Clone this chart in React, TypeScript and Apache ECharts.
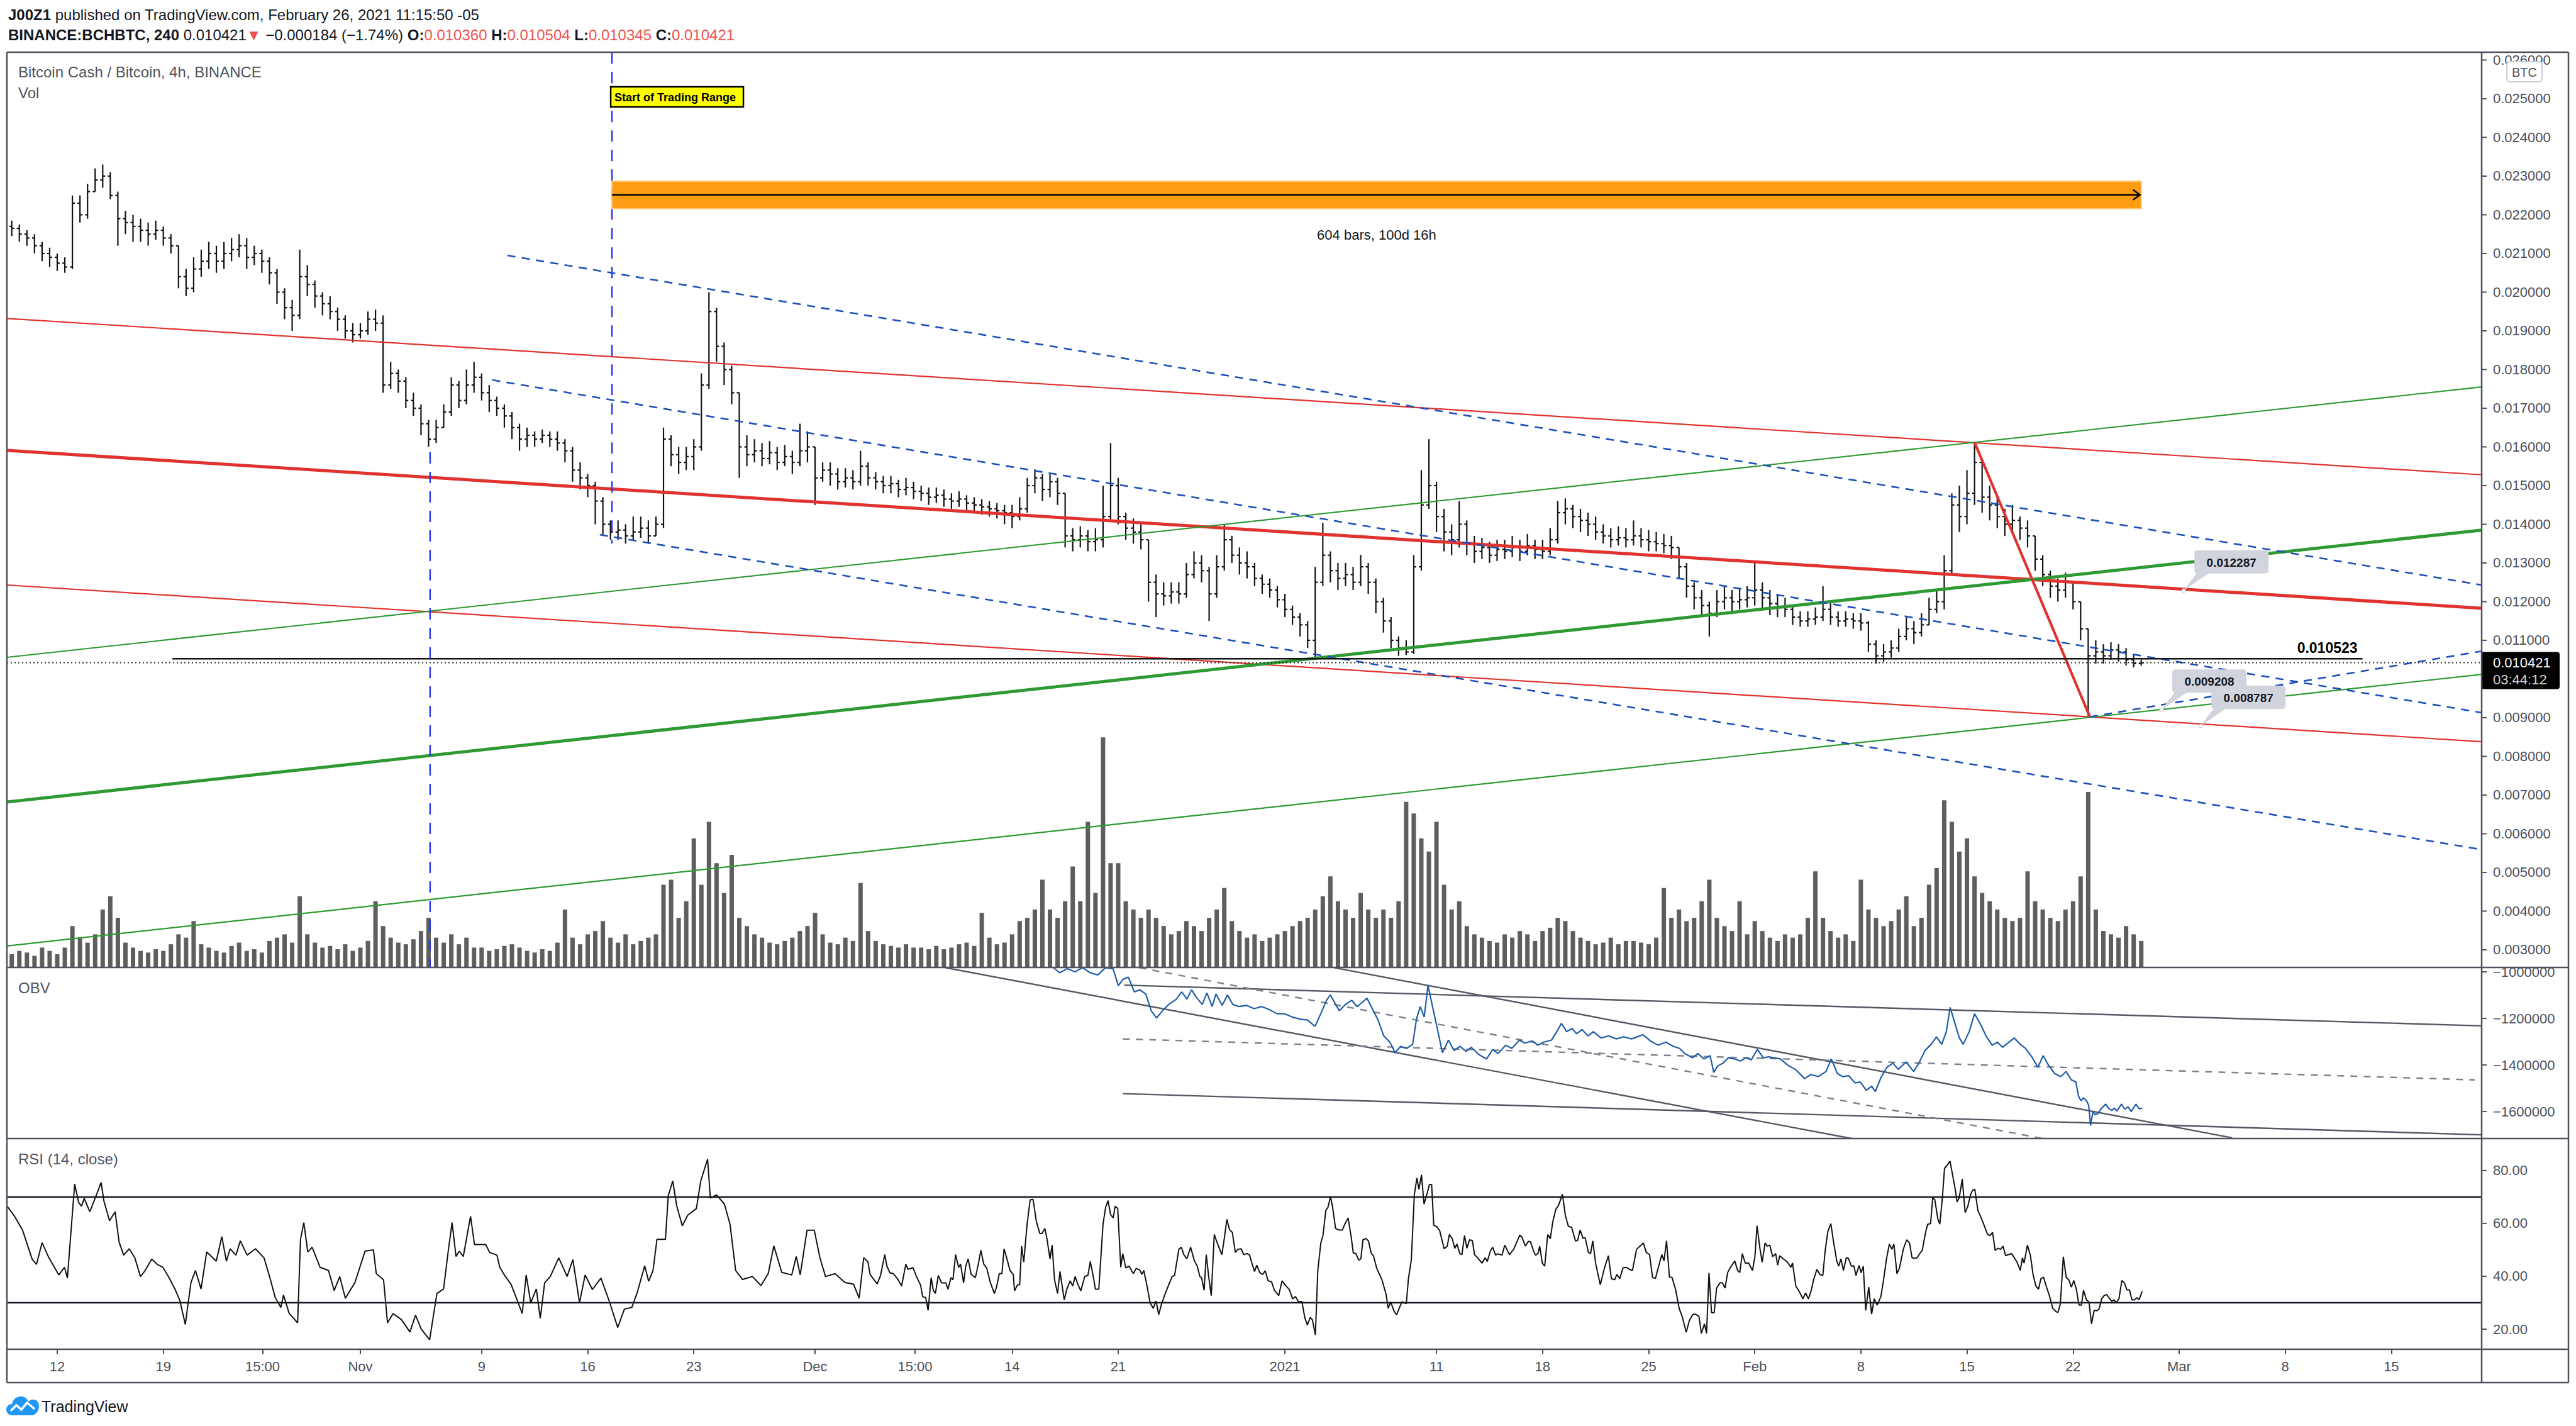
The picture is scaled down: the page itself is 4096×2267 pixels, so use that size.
import React, { useEffect, useRef } from "react";
import * as echarts from "echarts";

// ---------- time axis: days since 2020-10-12 00:00 ----------
const X_MIN = -3.32;
const X_MAX = 159.96;
const BAR_FIRST_DAY = -3;
const BAR_STEP_DAYS = 0.5; // 12h aggregated bars
const FIRST_OPEN = 0.0217;

// ---------- price bars (12h) ----------
const closes = [
  0.02165, 0.0215, 0.0214, 0.0212, 0.021, 0.0209, 0.02075, 0.02065, 0.0223, 0.022,
  0.0226, 0.0229, 0.023, 0.0225, 0.0219, 0.0218, 0.0217, 0.0216, 0.0215, 0.0216,
  0.0214, 0.0212, 0.0204, 0.0201, 0.0206, 0.0208, 0.021, 0.0208, 0.021, 0.0211,
  0.0212, 0.0209, 0.021, 0.0208, 0.0205, 0.02, 0.0196, 0.0194, 0.0204, 0.0202,
  0.0199, 0.0197, 0.0195, 0.0193, 0.019, 0.0189, 0.019, 0.0193, 0.0192, 0.0176,
  0.0179, 0.0177, 0.0172, 0.017, 0.0166, 0.0162, 0.0165, 0.0169, 0.0176, 0.0172,
  0.0176, 0.0178, 0.0174, 0.0172, 0.017, 0.0168, 0.0165, 0.0162, 0.0163, 0.0162,
  0.0163, 0.0162, 0.0161, 0.0159, 0.0154, 0.0152, 0.015, 0.0146, 0.014, 0.0138,
  0.01385, 0.0137, 0.0138, 0.0139, 0.0137, 0.014, 0.0162, 0.0158, 0.0156, 0.01575,
  0.016, 0.0176, 0.0195, 0.0186, 0.018, 0.0174, 0.016, 0.0158, 0.0159, 0.0157,
  0.01585, 0.0156, 0.01575, 0.0156, 0.0159, 0.016, 0.0152, 0.0154, 0.0153, 0.0151,
  0.0152, 0.0151, 0.0155, 0.0152, 0.0151, 0.015, 0.01505, 0.0149, 0.01495, 0.01485,
  0.0148, 0.0147, 0.01475, 0.01465, 0.0146, 0.01465, 0.01455, 0.0145, 0.01445, 0.0144,
  0.01435, 0.0143, 0.0142, 0.0144, 0.015, 0.0152, 0.0149, 0.0151, 0.0148, 0.0137,
  0.0136, 0.0137, 0.01355, 0.0136, 0.0142, 0.015, 0.0142, 0.0139, 0.0138, 0.0136,
  0.0125, 0.0122, 0.01215, 0.01225, 0.0122, 0.0127, 0.013, 0.0128, 0.0122, 0.0129,
  0.0136, 0.0132, 0.013, 0.0129, 0.0126, 0.01245, 0.0123, 0.01205, 0.0118, 0.0116,
  0.0114, 0.011, 0.0125, 0.0132, 0.0128, 0.0126, 0.0127, 0.0125, 0.0129, 0.0125,
  0.012, 0.0115, 0.011, 0.0108, 0.0107, 0.0129, 0.0145, 0.015, 0.0142, 0.0138,
  0.0136, 0.014, 0.0135, 0.0133, 0.0134, 0.0132, 0.01335, 0.0133, 0.0134, 0.0133,
  0.01345, 0.01335, 0.0133, 0.0136, 0.0143, 0.0144, 0.0142, 0.0141, 0.014, 0.0138,
  0.0137, 0.0136, 0.01365, 0.0136, 0.0137, 0.0136, 0.01355, 0.0135, 0.01345, 0.0134,
  0.0129, 0.0124, 0.0121, 0.0119, 0.0117, 0.012, 0.0121, 0.012, 0.01205, 0.0121,
  0.0123, 0.0121, 0.01195, 0.01185, 0.0118, 0.0116, 0.0115, 0.01155, 0.0116, 0.0118,
  0.0116, 0.0115, 0.01155, 0.0115, 0.01145, 0.0109, 0.0106, 0.0107, 0.0108, 0.0111,
  0.0113, 0.0112, 0.0114, 0.0118, 0.012, 0.0128, 0.0145, 0.0142, 0.0148, 0.0156,
  0.0147, 0.0145, 0.0142, 0.014, 0.0141, 0.0139, 0.0137, 0.0131, 0.0127, 0.0124,
  0.0123, 0.0125, 0.012, 0.0113, 0.0106, 0.0107, 0.0106, 0.01075, 0.0107, 0.0105,
  0.0104, 0.010421,
];
const highs = [
  0.02185, 0.02175, 0.0216, 0.0215, 0.0213, 0.02115, 0.021, 0.0209, 0.0225, 0.0225,
  0.0228, 0.0232, 0.0233, 0.0231, 0.0226, 0.0221, 0.022, 0.0219, 0.0218, 0.02185,
  0.0217, 0.0215, 0.0212, 0.0206, 0.0209, 0.0211, 0.0213, 0.0212, 0.0213, 0.0214,
  0.0215, 0.0214, 0.0212, 0.0211, 0.0209, 0.0206, 0.0201, 0.0198, 0.0211, 0.0207,
  0.0203, 0.02, 0.0199, 0.0196, 0.0194, 0.0192, 0.0192, 0.0195, 0.01955, 0.0194,
  0.0182, 0.018, 0.0178, 0.0174, 0.0171, 0.0167, 0.0167, 0.0171, 0.0178, 0.0177,
  0.018, 0.0182, 0.0179, 0.0176, 0.0173, 0.0171, 0.0169, 0.0166, 0.0165, 0.0164,
  0.01645, 0.0164, 0.0164, 0.0162, 0.016, 0.0156, 0.0153, 0.0151, 0.0147, 0.0141,
  0.0141, 0.014, 0.0142, 0.0142, 0.0141, 0.0142, 0.0165, 0.0163, 0.016, 0.016,
  0.0162, 0.0179, 0.02, 0.0196, 0.0187, 0.0181, 0.0174, 0.0163, 0.0162, 0.0161,
  0.01615, 0.016, 0.01605, 0.0159, 0.0166, 0.0164, 0.016, 0.0156, 0.0156, 0.01545,
  0.01545, 0.0154, 0.0159, 0.0156, 0.01535, 0.01525, 0.01525, 0.01515, 0.0152, 0.0151,
  0.015, 0.01495, 0.01495, 0.0149, 0.0148, 0.01485, 0.01475, 0.0147, 0.01465, 0.0146,
  0.01455, 0.0145, 0.0145, 0.0147, 0.0152, 0.01542, 0.0153, 0.0153, 0.0152, 0.0148,
  0.0139, 0.01395, 0.01385, 0.0139, 0.015, 0.0161, 0.0152, 0.0143, 0.01415, 0.014,
  0.0136, 0.0127, 0.0125, 0.0125, 0.0125, 0.013, 0.0133, 0.0132, 0.0129, 0.0132,
  0.014, 0.0137, 0.0134, 0.0133, 0.013, 0.0127, 0.0126, 0.0124, 0.0122, 0.0119,
  0.0117, 0.0115, 0.0129, 0.01404, 0.0133, 0.013, 0.013, 0.0129, 0.01321, 0.013,
  0.0126, 0.0121, 0.0116, 0.0111, 0.011, 0.0132, 0.0154, 0.0162, 0.0151, 0.0144,
  0.014, 0.0146, 0.0141, 0.0137, 0.01365, 0.01355, 0.0136, 0.0136, 0.0137, 0.0136,
  0.01375, 0.0136, 0.0136, 0.0139, 0.0146, 0.01467, 0.0145, 0.0144, 0.0143, 0.0142,
  0.014, 0.0139, 0.01395, 0.0139, 0.0141, 0.0139, 0.01385, 0.0138, 0.01375, 0.0137,
  0.0134, 0.013, 0.0125, 0.0123, 0.012, 0.0123, 0.0124, 0.0123, 0.01235, 0.0124,
  0.013, 0.0125, 0.0123, 0.0122, 0.0121, 0.0119, 0.01175, 0.01175, 0.01185, 0.0124,
  0.012, 0.01175, 0.01175, 0.0117, 0.0117, 0.0115, 0.011, 0.0109, 0.011, 0.0113,
  0.0116, 0.0115, 0.0117, 0.0121, 0.0123, 0.0132, 0.0148, 0.015, 0.0154, 0.01612,
  0.0157, 0.015, 0.0147, 0.0144, 0.0145, 0.0142, 0.0141, 0.0137, 0.0132, 0.0128,
  0.0126, 0.01275, 0.0125, 0.012, 0.0113, 0.011, 0.0109, 0.01095, 0.0109, 0.0108,
  0.01065, 0.010504,
];
const lows = [
  0.02145, 0.0213, 0.0212, 0.021, 0.0208, 0.02065, 0.02055, 0.0205, 0.0206, 0.0218,
  0.0219, 0.0226, 0.0227, 0.0224, 0.0212, 0.0215, 0.0213, 0.0213, 0.0212, 0.02135,
  0.0212, 0.021, 0.0201, 0.0199, 0.02, 0.0204, 0.0206, 0.0205, 0.0206, 0.0208,
  0.0209, 0.0206, 0.0207, 0.0205, 0.0202, 0.0197, 0.0193, 0.019, 0.0193, 0.0199,
  0.0196, 0.0194, 0.0193, 0.019, 0.0188, 0.0187, 0.0188, 0.0189, 0.019, 0.0174,
  0.0175, 0.0174, 0.017, 0.0168, 0.0163, 0.016, 0.0161, 0.0165, 0.0168, 0.017,
  0.0171, 0.0174, 0.0172, 0.0169, 0.0168, 0.0165, 0.0162, 0.0159, 0.016, 0.016,
  0.0161, 0.016, 0.0159, 0.0156, 0.0151, 0.0149, 0.0147, 0.014, 0.0137, 0.0136,
  0.0136, 0.0135, 0.0136, 0.01365, 0.0135, 0.0137, 0.0139, 0.0155, 0.0153, 0.0154,
  0.0154, 0.0159, 0.0175, 0.0182, 0.0176, 0.0171, 0.0152, 0.0155, 0.0156, 0.0155,
  0.01555, 0.0154, 0.0155, 0.0153, 0.0155, 0.0156, 0.0145, 0.0151, 0.015, 0.0149,
  0.01495, 0.0149, 0.015, 0.015, 0.0149, 0.0148, 0.0148, 0.0147, 0.01475, 0.01465,
  0.0146, 0.0145, 0.01455, 0.01445, 0.0144, 0.01445, 0.01435, 0.0143, 0.01425, 0.0142,
  0.01415, 0.014, 0.0139, 0.0141, 0.0143, 0.0148, 0.0146, 0.0147, 0.0145, 0.0134,
  0.0133, 0.0134, 0.0133, 0.0133, 0.0134, 0.0141, 0.014, 0.0136, 0.0135, 0.01335,
  0.012, 0.0116, 0.0119, 0.01195, 0.01195, 0.0121, 0.0126, 0.0125, 0.0115, 0.0121,
  0.0128, 0.013, 0.0127, 0.0126, 0.0124, 0.0122, 0.0121, 0.01185, 0.0116, 0.0114,
  0.0111, 0.0108, 0.01056, 0.0124, 0.0125, 0.0123, 0.0124, 0.0123, 0.0124, 0.0122,
  0.0117, 0.0112, 0.0108, 0.0106, 0.01062, 0.01065, 0.0128, 0.0144, 0.0138, 0.0133,
  0.0132, 0.0134, 0.0132, 0.013, 0.0131, 0.013, 0.01305, 0.0131, 0.01315, 0.01305,
  0.0132, 0.0131, 0.0131, 0.0132, 0.0135, 0.014, 0.0139, 0.0138, 0.0137, 0.0136,
  0.0135, 0.0134, 0.01345, 0.0134, 0.01345, 0.0134, 0.0133, 0.0133, 0.01325, 0.0131,
  0.0126, 0.0121, 0.0118, 0.0116, 0.0111, 0.0116, 0.0118, 0.01175, 0.0118, 0.01185,
  0.0119, 0.0118, 0.01165, 0.0116, 0.0116, 0.0114, 0.01135, 0.01135, 0.0114, 0.0115,
  0.0114, 0.01135, 0.01135, 0.0113, 0.01125, 0.0107, 0.0104, 0.01045, 0.01055, 0.0107,
  0.011, 0.0109, 0.0111, 0.0114, 0.0117, 0.0118, 0.0127, 0.0138, 0.014, 0.0145,
  0.0143, 0.0141, 0.0139, 0.0137, 0.0138, 0.0136, 0.0134, 0.0128, 0.0124, 0.0121,
  0.012, 0.0121, 0.0118, 0.011, 0.00903, 0.0104, 0.0104, 0.0105, 0.01045, 0.01035,
  0.0103, 0.010345,
];
// volume per 12h bar (relative units)
const volumes = [
  8, 10, 9, 7, 12, 10, 8, 12, 25, 18, 15, 20, 35, 43, 30, 15, 12, 10, 9, 11,
  10, 14, 20, 18, 28, 14, 12, 10, 9, 13, 15, 10, 11, 9, 16, 18, 20, 15, 43, 20,
  15, 12, 13, 11, 14, 10, 12, 16, 40, 25, 18, 15, 14, 17, 22, 30, 18, 15, 20, 14,
  18, 12, 12, 10, 11, 13, 14, 12, 10, 9, 11, 10, 15, 35, 18, 14, 20, 22, 28, 18,
  15, 20, 14, 16, 18, 20, 50, 53, 30, 40, 78, 50, 88, 63, 45, 68, 30, 25, 20, 18,
  15, 14, 16, 18, 22, 25, 33, 20, 15, 14, 18, 16, 51, 22, 16, 14, 13, 12, 14, 12,
  12, 11, 13, 11, 12, 14, 15, 13, 33, 18, 14, 15, 20, 28, 30, 35, 53, 35, 30, 40,
  61, 40, 88, 45, 139, 63, 63, 40, 35, 30, 35, 30, 25, 20, 22, 28, 25, 22, 30, 35,
  48, 28, 22, 18, 20, 16, 18, 20, 22, 25, 28, 30, 35, 43, 55, 40, 35, 30, 45, 35,
  30, 35, 30, 40, 100, 93, 78, 70, 88, 50, 35, 40, 25, 20, 18, 16, 15, 20, 18, 22,
  20, 16, 22, 24, 30, 28, 22, 18, 16, 14, 15, 18, 14, 16, 16, 15, 14, 18, 48, 30,
  35, 28, 30, 40, 53, 30, 25, 22, 40, 20, 28, 22, 18, 16, 20, 18, 20, 30, 58, 30,
  22, 18, 20, 16, 53, 35, 30, 25, 28, 35, 43, 25, 30, 50, 60, 101, 88, 70, 78, 55,
  45, 40, 35, 30, 28, 30, 58, 40, 35, 30, 28, 35, 40, 55, 106, 35, 22, 20, 18, 25,
  20, 16,
];

// ---------- OBV [day, value] ----------
const obvPoints = [
  [65.0, -960000], [65.64, -977000], [66.14, -1004000], [66.64, -986000], [67.15, -1000000], [67.65, -982000],
  [68.15, -1004000], [68.66, -1013000], [69.16, -982000], [69.66, -986000], [70.01, -1059000], [70.32, -1032000],
  [70.67, -1023000], [71.07, -1086000], [71.42, -1077000], [71.82, -1095000], [72.18, -1167000], [72.53, -1198000],
  [72.93, -1167000], [73.33, -1140000], [73.84, -1117000], [74.19, -1086000], [74.54, -1117000], [74.84, -1077000],
  [75.2, -1113000], [75.55, -1140000], [75.85, -1090000], [76.2, -1149000], [76.45, -1095000], [76.86, -1144000],
  [77.21, -1099000], [77.56, -1140000], [77.96, -1149000], [78.46, -1144000], [78.97, -1158000], [79.47, -1149000],
  [79.97, -1162000], [80.48, -1180000], [80.98, -1180000], [81.48, -1194000], [81.99, -1203000], [82.49, -1207000],
  [82.99, -1234000], [83.39, -1176000], [83.75, -1122000], [84.0, -1099000], [84.35, -1140000], [84.6, -1167000],
  [85.0, -1140000], [85.41, -1122000], [85.76, -1149000], [86.11, -1131000], [86.41, -1113000], [86.76, -1158000],
  [87.12, -1203000], [87.52, -1275000], [87.92, -1302000], [88.27, -1347000], [88.63, -1320000], [89.03, -1329000],
  [89.43, -1311000], [89.68, -1203000], [89.93, -1149000], [90.19, -1194000], [90.44, -1059000], [90.74, -1149000],
  [91.04, -1239000], [91.39, -1347000], [91.79, -1293000], [92.15, -1338000], [92.55, -1320000], [92.95, -1342000],
  [93.3, -1324000], [93.81, -1356000], [94.31, -1374000], [94.71, -1333000], [95.06, -1351000], [95.57, -1315000],
  [95.97, -1329000], [96.47, -1293000], [96.83, -1306000], [97.33, -1297000], [97.68, -1315000], [98.08, -1302000],
  [98.59, -1293000], [98.94, -1257000], [99.24, -1221000], [99.59, -1257000], [99.94, -1243000], [100.25, -1266000],
  [100.6, -1248000], [101.0, -1275000], [101.35, -1257000], [101.86, -1284000], [102.36, -1275000], [102.86, -1288000],
  [103.36, -1279000], [103.87, -1288000], [104.62, -1270000], [105.12, -1297000], [105.63, -1315000], [106.13, -1302000],
  [106.63, -1320000], [107.04, -1329000], [107.39, -1351000], [107.89, -1369000], [108.24, -1351000], [108.65, -1374000],
  [109.05, -1360000], [109.3, -1432000], [109.55, -1405000], [109.9, -1392000], [110.26, -1369000], [110.66, -1374000],
  [111.06, -1383000], [111.41, -1369000], [111.77, -1378000], [112.17, -1333000], [112.57, -1369000], [112.92, -1365000],
  [113.28, -1369000], [113.68, -1374000], [114.18, -1401000], [114.68, -1419000], [115.29, -1459000], [115.69, -1441000],
  [116.19, -1450000], [116.7, -1428000], [117.05, -1374000], [117.45, -1437000], [117.8, -1450000], [118.2, -1446000],
  [118.61, -1477000], [118.96, -1473000], [119.36, -1509000], [119.71, -1491000], [119.96, -1514000], [120.32, -1455000],
  [120.72, -1410000], [121.12, -1392000], [121.47, -1419000], [121.98, -1387000], [122.48, -1428000], [122.83, -1392000],
  [123.23, -1338000], [123.64, -1311000], [123.99, -1279000], [124.34, -1311000], [124.64, -1257000], [124.89, -1153000],
  [125.25, -1230000], [125.5, -1284000], [125.75, -1311000], [126.15, -1257000], [126.5, -1180000], [126.86, -1221000],
  [127.26, -1275000], [127.66, -1315000], [128.01, -1302000], [128.36, -1324000], [128.77, -1302000], [129.12, -1284000],
  [129.52, -1311000], [129.87, -1329000], [130.28, -1365000], [130.68, -1410000], [131.03, -1360000], [131.38, -1401000],
  [131.79, -1437000], [132.19, -1450000], [132.54, -1428000], [132.89, -1464000], [133.19, -1473000], [133.36, -1534000],
  [133.53, -1554000], [133.68, -1541000], [133.89, -1554000], [134.03, -1573000], [134.16, -1660000], [134.31, -1600000],
  [134.46, -1614000], [134.62, -1610000], [134.83, -1590000], [135.15, -1568000], [135.36, -1588000], [135.57, -1595000],
  [135.72, -1585000], [135.89, -1598000], [136.2, -1568000], [136.41, -1590000], [136.63, -1580000], [136.84, -1600000],
  [137.15, -1568000], [137.36, -1588000], [137.57, -1586000],
];

// ---------- RSI (14, close) [day, value] ----------
const rsiPoints = [
  [-3.33, 66.7], [-2.85, 63], [-2.29, 57.5], [-1.66, 46.5], [-1.37, 44.5], [-1.0, 52.7], [-0.55, 47], [0.11, 40.5],
  [0.48, 43.4], [0.67, 39.3], [1.15, 74.9], [1.41, 68], [1.6, 66.5], [1.78, 69.5], [2.15, 64.4], [2.71, 72.6],
  [2.89, 75.5], [3.08, 68.5], [3.45, 61], [3.82, 64.4], [4.08, 53], [4.38, 48], [4.75, 50.4], [5.12, 47],
  [5.49, 39.9], [5.78, 42], [6.23, 46.5], [6.6, 44.5], [6.97, 43.4], [7.34, 39.9], [7.78, 35], [8.08, 31],
  [8.45, 21.8], [8.82, 37.6], [9.12, 42.2], [9.49, 35.2], [9.86, 49.2], [10.49, 45.7], [10.86, 55], [11.16, 45.7],
  [11.41, 50.4], [11.79, 48], [12.08, 53.4], [12.53, 48], [13.08, 50.4], [13.64, 47], [14.01, 39.9], [14.38, 32],
  [14.75, 28.2], [14.93, 32.9], [15.3, 26], [15.86, 22.4], [16.05, 54], [16.27, 60.3], [16.53, 49.2], [16.82, 51],
  [17.34, 43.4], [17.9, 42.2], [18.27, 34.6], [18.64, 39.9], [19.01, 31.7], [19.64, 37.6], [20.31, 49.5], [20.86, 50],
  [21.05, 41], [21.53, 38.7], [21.79, 22.4], [22.16, 25.9], [22.71, 23.6], [23.27, 18.9], [23.64, 25.3], [24.01, 20.1],
  [24.57, 16], [25.05, 33.5], [25.49, 35.2], [25.79, 49.2], [26.05, 60.3], [26.31, 47.5], [26.53, 49.5], [26.79, 47.5],
  [27.27, 62.7], [27.53, 52], [28.27, 52], [28.53, 49], [29.01, 48], [29.2, 43.4], [29.57, 39.9], [29.94, 37],
  [30.31, 31.5], [30.68, 25.9], [30.94, 40.5], [31.24, 30], [31.61, 35.2], [31.87, 24.1], [32.16, 37.6], [32.53, 39.9],
  [33.09, 47], [33.64, 39.9], [34.02, 46.3], [34.46, 30], [34.83, 40.5], [35.31, 35], [35.87, 39.3], [36.42, 30.6],
  [36.98, 20.6], [37.42, 27.6], [37.91, 28.2], [38.28, 34.1], [38.76, 44], [39.02, 38.1], [39.31, 42.2], [39.57, 54],
  [40.13, 54], [40.31, 70.3], [40.61, 76.1], [40.87, 66.7], [41.24, 59.1], [41.61, 63.2], [42.17, 65.6], [42.46, 76.1],
  [42.91, 84.3], [43.09, 69.6], [43.5, 70.8], [44.02, 67.3], [44.39, 59.7], [44.76, 42.2], [45.21, 38.8], [45.87, 39.9],
  [46.43, 36.5], [46.91, 41], [47.28, 51.5], [47.8, 41.5], [48.46, 40.5], [48.76, 47.5], [49.02, 40.5], [49.47, 57.4],
  [49.95, 57.4], [50.32, 47], [50.69, 39.9], [51.32, 41], [51.98, 37.6], [52.54, 37], [52.91, 31.7], [53.21, 47],
  [53.49, 45.4], [53.63, 40.7], [54.1, 37.1], [54.32, 40.3], [54.6, 48.2], [54.74, 43.8], [54.94, 41.3], [55.16, 41],
  [55.44, 39.1], [55.71, 36.3], [55.99, 44.6], [56.13, 42.6], [56.46, 43.3], [56.69, 39.9], [56.96, 36.7], [57.1, 32.3],
  [57.3, 31.9], [57.46, 27.1], [57.66, 39.5], [57.8, 34.7], [57.94, 33.5], [58.13, 40.3], [58.35, 37.5], [58.63, 37.5],
  [58.77, 35.1], [58.97, 39.5], [59.1, 38.7], [59.27, 48.2], [59.47, 43.4], [59.6, 44.6], [59.8, 37.5], [59.94, 43.8],
  [60.1, 46.6], [60.3, 40.7], [60.58, 39.5], [60.77, 44.6], [60.94, 49.8], [61.13, 44.6], [61.33, 43], [61.55, 37.9],
  [61.83, 33.5], [61.97, 35.9], [62.16, 41], [62.33, 41], [62.47, 50.4], [62.66, 46.6], [62.86, 42.2], [63.08, 40.7],
  [63.16, 34.5], [63.36, 36.8], [63.5, 36.8], [63.63, 51.4], [63.77, 45.4], [63.99, 59.7], [64.19, 68.9], [64.38, 69.1],
  [64.61, 60.5], [64.83, 56.2], [64.97, 56.2], [65.16, 58.1], [65.3, 54.2], [65.5, 46.6], [65.64, 51.8], [65.8, 38.7],
  [66.0, 33.5], [66.16, 41.8], [66.44, 31.1], [66.61, 35.1], [66.83, 38.3], [67.0, 36.3], [67.16, 39.9], [67.33, 37.1],
  [67.53, 34.5], [67.8, 40], [68.0, 40.3], [68.16, 45.6], [68.33, 40.7], [68.5, 35.1], [68.72, 35.1], [69.0, 59.7],
  [69.17, 66.1], [69.33, 68.6], [69.5, 63.3], [69.67, 62.1], [69.8, 66.5], [69.97, 65.7], [70.17, 43.4], [70.3, 48.6],
  [70.5, 43.2], [70.72, 43.8], [71.0, 41], [71.19, 43], [71.42, 42.4], [71.56, 40.7], [71.69, 42.2], [71.89, 36.7],
  [72.11, 29.9], [72.31, 27.9], [72.5, 30.7], [72.67, 25.5], [72.86, 29.5], [73.08, 33.1], [73.36, 37.1], [73.56, 39.9],
  [73.72, 40.3], [74.0, 50.2], [74.17, 51], [74.33, 48.2], [74.53, 46.6], [74.78, 51], [75.03, 45.8], [75.22, 43.8],
  [75.39, 39.9], [75.5, 39.5], [75.67, 34.7], [75.81, 48.2], [75.97, 39.9], [76.14, 32.7], [76.34, 55.8], [76.56, 52.2],
  [76.84, 48.2], [76.98, 53.4], [77.17, 61.5], [77.34, 57.7], [77.53, 56.6], [77.73, 49], [77.89, 50.2], [78.11, 50.4],
  [78.28, 48.2], [78.5, 48.6], [78.67, 48], [78.84, 44.6], [79.0, 41.8], [79.14, 44.2], [79.34, 41.4], [79.53, 40.7],
  [79.7, 42.1], [79.89, 38.3], [80.12, 37.9], [80.31, 34.7], [80.59, 32.7], [80.81, 38.3], [81.01, 36.7], [81.28, 35.1],
  [81.51, 31.5], [81.7, 32.3], [81.9, 30.3], [82.12, 30.5], [82.31, 24.4], [82.48, 21.6], [82.67, 24.4], [82.81, 23.6],
  [83.01, 17.8], [83.17, 42.2], [83.37, 52.6], [83.51, 55.4], [83.7, 64.9], [83.84, 66.1], [84.01, 70.1], [84.15, 66.1],
  [84.34, 58.1], [84.56, 57.5], [84.79, 57.5], [84.95, 59.7], [85.17, 62.1], [85.37, 55], [85.51, 48.8], [85.68, 48.6],
  [85.87, 46.1], [86.01, 46.6], [86.15, 53.8], [86.34, 54.3], [86.51, 53.4], [86.7, 48.6], [86.84, 47.8], [87.06, 43],
  [87.4, 38.7], [87.68, 33.1], [87.81, 27.9], [87.98, 30.3], [88.18, 27.1], [88.37, 25.4], [88.57, 28.3], [88.73, 30.3],
  [89.01, 29.7], [89.15, 39.1], [89.34, 46.2], [89.54, 70.9], [89.71, 77.2], [89.84, 72.9], [90.01, 78.4], [90.18, 67.3],
  [90.4, 71.7], [90.54, 74.8], [90.68, 74.7], [90.82, 59.3], [91.01, 58.8], [91.21, 57.3], [91.34, 54.2], [91.51, 50.4],
  [91.71, 51.4], [91.85, 55.8], [92.04, 54.2], [92.21, 50.6], [92.35, 52.2], [92.54, 48.6], [92.68, 48.2], [92.85, 55.4],
  [93.01, 50.6], [93.18, 53.8], [93.37, 53.5], [93.51, 48.2], [93.71, 47], [94.01, 45], [94.21, 47], [94.35, 45.6],
  [94.57, 49.8], [94.71, 51], [94.9, 48], [95.04, 48.5], [95.32, 48], [95.51, 51.8], [95.74, 49], [95.81, 48.2],
  [96.09, 50.2], [96.5, 55.6], [96.64, 54.8], [96.87, 51.4], [97.06, 53.2], [97.2, 53.1], [97.39, 49.8], [97.53, 48],
  [97.7, 48.6], [97.81, 51.4], [97.98, 45], [98.14, 43.8], [98.34, 55.8], [98.51, 54.2], [98.67, 60.5], [98.87, 65.3],
  [99.06, 66.9], [99.31, 71], [99.51, 62.9], [99.7, 58.9], [99.92, 58.5], [100.17, 53.4], [100.31, 53.5], [100.48, 57.5],
  [100.67, 54.3], [100.81, 54.6], [101.03, 49], [101.17, 48.6], [101.31, 53.4], [101.51, 44.6], [101.81, 36.8], [102.06, 42.6],
  [102.34, 47.8], [102.54, 39.1], [102.76, 38.7], [102.9, 40.7], [103.09, 39.1], [103.31, 43.2], [103.54, 43.4], [103.73, 42.6],
  [103.93, 42.2], [104.2, 50.2], [104.43, 51.4], [104.65, 52.6], [104.84, 49], [105.06, 48.2], [105.26, 39.5], [105.45, 39.2],
  [105.68, 44.2], [105.87, 48.2], [106.01, 45.8], [106.18, 53.4], [106.37, 39.7], [106.54, 39.6], [106.79, 34.7], [107.01, 27.9],
  [107.21, 24.8], [107.48, 18.8], [107.68, 23.2], [107.9, 25.5], [108.09, 25.7], [108.32, 24.8], [108.48, 18.4], [108.68, 22],
  [108.82, 18.4], [108.98, 41.3], [109.15, 26.2], [109.32, 26.2], [109.48, 35.5], [109.71, 37.6], [109.87, 37.5], [110.04, 35.5],
  [110.21, 41.4], [110.4, 43.4], [110.68, 45.8], [110.87, 42.2], [111.01, 41.4], [111.18, 48.6], [111.37, 45], [111.6, 45],
  [111.85, 42.2], [112.01, 47.4], [112.15, 59.1], [112.35, 50.2], [112.49, 45.3], [112.68, 52.6], [112.82, 51.4], [112.99, 51.8],
  [113.18, 47.4], [113.38, 48.6], [113.51, 44.2], [113.65, 47.8], [113.88, 46.6], [114.15, 45.4], [114.38, 43.4], [114.49, 45],
  [114.71, 36.3], [114.93, 34.3], [115.18, 31.5], [115.35, 33.7], [115.54, 31.5], [115.71, 34.3], [115.88, 38.7], [116.1, 42.6],
  [116.29, 40.7], [116.49, 40.3], [116.65, 49.8], [116.82, 56.9], [117.02, 59.9], [117.21, 52.6], [117.41, 45.8], [117.54, 43.8],
  [117.68, 46.6], [117.85, 42.2], [118.04, 47], [118.18, 46.8], [118.38, 43.8], [118.54, 44], [118.68, 40.3], [118.88, 44.1],
  [119.02, 41.3], [119.16, 43.8], [119.32, 27.1], [119.52, 35.9], [119.71, 25.7], [119.88, 31.5], [120.07, 29.1], [120.32, 32.3],
  [120.49, 38.3], [120.68, 46.2], [120.88, 52.2], [121.05, 50.2], [121.18, 52.2], [121.38, 41], [121.55, 43.2], [121.8, 50.2],
  [122.02, 53.8], [122.21, 52.6], [122.38, 47], [122.55, 46.8], [122.71, 47], [122.91, 48.8], [123.05, 49.8], [123.27, 56.6],
  [123.41, 59.7], [123.6, 59.9], [123.74, 69.7], [123.88, 68.9], [124.08, 61.7], [124.21, 59.7], [124.38, 69.7], [124.52, 80.8],
  [124.72, 82.2], [124.88, 83.6], [125.05, 78.4], [125.22, 73.1], [125.35, 68.1], [125.49, 69.7], [125.69, 76.8], [125.88, 64.1],
  [126.05, 66.3], [126.24, 70.9], [126.38, 72.6], [126.52, 72.9], [126.72, 64.9], [126.94, 62.1], [127.16, 58.9], [127.36, 55.8],
  [127.52, 55.4], [127.69, 56.6], [127.86, 49.8], [128.05, 50.6], [128.22, 50.2], [128.38, 51.4], [128.55, 47.8], [128.74, 48.2],
  [128.94, 48.6], [129.08, 47.4], [129.3, 45.4], [129.52, 42.2], [129.66, 47], [129.77, 45], [129.99, 51.8], [130.19, 47.8],
  [130.36, 40.7], [130.55, 36.3], [130.72, 35.1], [130.88, 39.1], [131.05, 39.7], [131.25, 35.9], [131.44, 32.7], [131.66, 27.9],
  [131.86, 26.7], [132.0, 26.3], [132.16, 29.5], [132.36, 47.4], [132.55, 39.5], [132.72, 38.7], [132.89, 35.9], [133.05, 38.4],
  [133.22, 35.1], [133.39, 29.1], [133.55, 29.1], [133.69, 34.7], [133.89, 31], [134.05, 30.3], [134.22, 22], [134.39, 27.1],
  [134.58, 27], [134.72, 27.7], [134.89, 31.5], [135.05, 32.7], [135.22, 33.1], [135.42, 31.5], [135.55, 30.5], [135.72, 31.1],
  [135.83, 29.9], [136.03, 31.5], [136.22, 38.4], [136.39, 37.5], [136.55, 34.9], [136.72, 34.9], [136.89, 31.1], [137.05, 31.1],
  [137.22, 31.9], [137.36, 31.1], [137.56, 34.3],
];

// ---------- axis ticks ----------
const priceTicks = [
  0.003, 0.004, 0.005, 0.006, 0.007, 0.008, 0.009, 0.01, 0.011, 0.012, 0.013, 0.014,
  0.015, 0.016, 0.017, 0.018, 0.019, 0.02, 0.021, 0.022, 0.023, 0.024, 0.025, 0.026,
];
const obvTicks = [-1000000, -1200000, -1400000, -1600000];
const rsiTicks = [20, 40, 60, 80];
const timeTicks = [0, 7, 13.55, 20, 28, 35, 42, 50, 56.6, 63, 70, 81, 91, 98, 105, 112, 119, 126, 133, 140, 147, 154];
const timeTickLabels = ["12", "19", "15:00", "Nov", "9", "16", "23", "Dec", "15:00", "14", "21", "2021", "11", "18", "25", "Feb", "8", "15", "22", "Mar", "8", "15"];

// ---------- drawings on price pane [day, price] ----------
const redUpper = [[-3.32, 0.01932], [159.96, 0.01528]];
const redMid = [[-3.32, 0.01591], [159.96, 0.01183]];
const redLower = [[-3.32, 0.01243], [159.96, 0.00838]];
const greenUpper = [[-3.32, 0.01056], [159.96, 0.01755]];
const greenMid = [[-3.32, 0.00682], [159.96, 0.01385]];
const greenLower = [[-3.32, 0.0031], [159.96, 0.01012]];
const blueUpper = [[29.7, 0.02095], [159.96, 0.01243]];
const blueMid = [[28.7, 0.01773], [159.96, 0.00913]];
const blueLower = [[35.8, 0.01373], [159.96, 0.00559]];
const blueRise = [[134.1, 0.00902], [159.96, 0.01072]];
const redDrop = [[126.5, 0.01612], [134.1, 0.00903]];
const levelLine = [[7.6, 0.010523], [152.1, 0.010523]];
const vLineStart = [[36.6, 0.0262], [36.6, 0.0135]];
const vLineNov = [[24.6, 0.01586], [24.6, 0.00254]];
const lastPrice = 0.010421;
const countdown = "03:44:12";
const rangeBox = [[36.6, 0.02287, 137.5, 0.02216]];
const rangeText = "604 bars, 100d 16h";
const startLabel = [[36.6, 0.02531]];
const startText = "Start of Trading Range";
const callouts = [[140.3, 0.012287], [138.84, 0.009208], [141.42, 0.008787]];

// ---------- drawings on OBV pane [day, value] ----------
const obvSolidA = [[58.6, -982000], [118.4, -1716000]];
const obvSolidB = [[84.25, -982000], [143.5, -1713000]];
const obvSolidTop = [[70.4, -1057000], [159.96, -1232000]];
const obvSolidBottom = [[70.3, -1523000], [159.96, -1700000]];
const obvDashMid = [[70.3, -1288000], [159.5, -1464000]];
const obvDashDiag = [[71.4, -982000], [131.0, -1716000]];

const FONT = '"Liberation Sans", Arial, sans-serif';
const INK = "#131722";
const AXIS_TXT = "#4c4f5a";
const FRAME = "#4e525c";

const TV_CLOUD =
  "M10 30 C4 30 0 26 0 21 C0 16 4 12 9 12 C10 5 16 0 23 0 C29 0 33 3 35 8 C37 6 40 5 43 5 C48 5 52 9 52 15 C52 23 47 30 40 30 Z";
let shapeRegistered = false;
function ensureShapes() {
  if (shapeRegistered) return;
  echarts.graphic.registerShape("tvCloud", echarts.graphic.extendPath(TV_CLOUD, {}));
  shapeRegistered = true;
}

function buildOption() {
  const ohlc = closes.map((c, i) => [
    BAR_FIRST_DAY + i * BAR_STEP_DAYS,
    i === 0 ? FIRST_OPEN : closes[i - 1],
    c,
    lows[i],
    highs[i],
  ]);
  const vol = volumes.map((v, i) => [BAR_FIRST_DAY + i * BAR_STEP_DAYS, v]);

  const line = (pts: any, color: string, width: number, type: any = "solid", axis = 0, z = 4) => ({
    type: "line",
    xAxisIndex: axis,
    yAxisIndex: axis,
    data: pts,
    symbol: "none",
    silent: true,
    clip: true,
    z,
    lineStyle: { color, width, type },
    emphasis: { disabled: true },
  });

  // axis tick marks drawn at the right edge of a pane, from tick values
  const tickMarks = (axis: number, ticks: number[]) => ({
    type: "custom",
    xAxisIndex: axis,
    yAxisIndex: axis,
    data: ticks.map((t) => [X_MAX, t]),
    silent: true,
    clip: false,
    z: 8,
    renderItem: (params: any, api: any) => {
      const p = api.coord([api.value(0), api.value(1)]);
      return { type: "line", shape: { x1: p[0], y1: p[1], x2: p[0] + 8, y2: p[1] }, style: { stroke: FRAME, lineWidth: 2 } };
    },
  });

  const RED = "#e0322e";
  const GREEN = "#2f9a33";
  const BLUE = "#1d4fb8";

  const xAx = (i: number) => ({
    type: "value",
    gridIndex: i,
    min: X_MIN,
    max: X_MAX,
    show: i === 3,
    axisLine: { show: false },
    splitLine: { show: false },
    axisTick: i === 3 ? { show: true, customValues: timeTicks, length: 8, lineStyle: { color: FRAME, width: 2 } } : { show: false },
    axisLabel:
      i === 3
        ? {
            show: true,
            customValues: timeTicks,
            margin: 16,
            fontSize: 22,
            fontFamily: FONT,
            color: AXIS_TXT,
            formatter: (v: number) => {
              const k = timeTicks.findIndex((t) => Math.abs(t - v) < 1e-6);
              return k >= 0 ? timeTickLabels[k] : "";
            },
          }
        : { show: false },
  });

  const yAx = (i: number, min: number, max: number, ticks: number[] | null, fmt: any) => ({
    type: "value",
    gridIndex: i,
    position: "right",
    min,
    max,
    show: ticks !== null,
    axisLine: { show: false },
    splitLine: { show: false },
    axisTick: { show: false },
    axisLabel: ticks
      ? { show: true, customValues: ticks, margin: 18, fontSize: 22, fontFamily: FONT, color: AXIS_TXT, formatter: fmt }
      : { show: false },
  });

  const graphics: any[] = [];
  // header
  graphics.push({
    type: "text",
    x: 13,
    y: 23,
    z: 60,
    style: {
      text: "{b|J00Z1} published on TradingView.com, February 26, 2021 11:15:50 -05",
      font: `24px ${FONT}`,
      fill: INK,
      verticalAlign: "middle",
      rich: { b: { fontWeight: "bold", fontSize: 24, fontFamily: FONT, fill: INK } },
    },
  });
  graphics.push({
    type: "text",
    x: 13,
    y: 55,
    z: 60,
    style: {
      text:
        "{b|BINANCE:BCHBTC, 240} 0.010421{r|▼} −0.000184 (−1.74%) {b|O:}{r|0.010360} {b|H:}{r|0.010504} {b|L:}{r|0.010345} {b|C:}{r|0.010421}",
      font: `24px ${FONT}`,
      fill: INK,
      verticalAlign: "middle",
      rich: {
        b: { fontWeight: "bold", fontSize: 24, fontFamily: FONT, fill: INK },
        r: { fontSize: 24, fontFamily: FONT, fill: "#ef5350" },
      },
    },
  });
  // pane titles
  const title = (t: string, y: number) => ({
    type: "text",
    x: 29,
    y,
    z: 60,
    style: { text: t, font: `24px ${FONT}`, fill: "#50535e", verticalAlign: "middle" },
  });
  graphics.push(title("Bitcoin Cash / Bitcoin, 4h, BINANCE", 114));
  graphics.push(title("Vol", 147));
  graphics.push(title("OBV", 1570));
  graphics.push(title("RSI (14, close)", 1842));
  // frame
  const fl = (x1: number, y1: number, x2: number, y2: number) => ({
    type: "line",
    z: 70,
    shape: { x1, y1, x2, y2 },
    style: { stroke: FRAME, lineWidth: 2.5 },
  });
  graphics.push(fl(11, 83, 4084, 83));
  graphics.push(fl(11, 83, 11, 2198));
  graphics.push(fl(4084, 83, 4084, 2198));
  graphics.push(fl(11, 2198, 4084, 2198));
  graphics.push(fl(3946, 83, 3946, 2198));
  graphics.push(fl(11, 1538, 4084, 1538));
  graphics.push(fl(11, 1810, 4084, 1810));
  graphics.push(fl(11, 2145, 4084, 2145));
  // BTC unit box
  graphics.push({
    type: "rect",
    z: 65,
    shape: { x: 3986, y: 98, width: 56, height: 32, r: 5 },
    style: { fill: "#ffffff", stroke: "#c9ccd4", lineWidth: 2 },
  });
  graphics.push({
    type: "text",
    z: 66,
    x: 4014,
    y: 115,
    style: { text: "BTC", font: `20px ${FONT}`, fill: "#50535e", align: "center", verticalAlign: "middle" },
  });
  // TradingView logo
  graphics.push({
    type: "group",
    x: 10,
    y: 2220,
    z: 60,
    children: [
      { type: "tvCloud", x: 0, y: 0, scaleX: 1, scaleY: 1, style: { fill: "#2196f3" } },
      {
        type: "polyline",
        shape: { points: [[7, 23], [16, 14], [24, 21], [33, 10], [45, 20]] },
        style: { stroke: "#ffffff", lineWidth: 3.5, fill: null },
      },
    ],
  });
  graphics.push({
    type: "text",
    x: 66,
    y: 2236,
    z: 60,
    style: { text: "TradingView", font: `25px ${FONT}`, fill: INK, verticalAlign: "middle" },
  });

  const series: any[] = [
    // volume
    {
      type: "bar",
      xAxisIndex: 1,
      yAxisIndex: 1,
      data: vol,
      barWidth: 7,
      silent: true,
      z: 1,
      itemStyle: { color: "#5e5e5e" },
    },
    // OHLC bars
    {
      type: "custom",
      xAxisIndex: 0,
      yAxisIndex: 0,
      data: ohlc,
      silent: true,
      z: 3,
      encode: { x: 0, y: [1, 2, 3, 4] },
      renderItem: (params: any, api: any) => {
        const x = api.value(0);
        const pH = api.coord([x, api.value(4)]);
        const pL = api.coord([x, api.value(3)]);
        const pO = api.coord([x, api.value(1)]);
        const pC = api.coord([x, api.value(2)]);
        const st = { stroke: "#131313", lineWidth: 2.2 };
        return {
          type: "group",
          children: [
            { type: "line", shape: { x1: pH[0], y1: pH[1], x2: pL[0], y2: pL[1] }, style: st },
            { type: "line", shape: { x1: pO[0] - 4, y1: pO[1], x2: pO[0], y2: pO[1] }, style: st },
            { type: "line", shape: { x1: pC[0], y1: pC[1], x2: pC[0] + 4, y2: pC[1] }, style: st },
          ],
        };
      },
    },
    // channel lines
    line(redUpper, RED, 2.2),
    line(redMid, RED, 5),
    line(redLower, RED, 2.2),
    line(greenUpper, GREEN, 2.2),
    line(greenMid, GREEN, 5),
    line(greenLower, GREEN, 2.2),
    line(blueUpper, BLUE, 2.6, [13, 10]),
    line(blueMid, BLUE, 2.6, [13, 10]),
    line(blueLower, BLUE, 2.6, [13, 10]),
    line(blueRise, BLUE, 2.6, [13, 10]),
    line(redDrop, RED, 4.2),
    line(levelLine, "#111111", 2.5),
    line([[X_MIN, lastPrice], [X_MAX, lastPrice]], "#222222", 2, [2, 4]),
    line(vLineStart, "#2638ee", 2.4, [18, 13]),
    line(vLineNov, "#2638ee", 2.4, [18, 13]),
    // date range box
    {
      type: "custom",
      xAxisIndex: 0,
      yAxisIndex: 0,
      data: rangeBox,
      silent: true,
      z: 5,
      renderItem: (params: any, api: any) => {
        const a = api.coord([api.value(0), api.value(1)]);
        const b = api.coord([api.value(2), api.value(3)]);
        const my = (a[1] + b[1]) / 2;
        return {
          type: "group",
          children: [
            {
              type: "rect",
              shape: { x: a[0], y: a[1], width: b[0] - a[0], height: b[1] - a[1] },
              style: { fill: "#ff9d12", stroke: "#ffc777", lineWidth: 2 },
            },
            { type: "line", shape: { x1: a[0], y1: my, x2: b[0] - 2, y2: my }, style: { stroke: "#000", lineWidth: 2.5 } },
            {
              type: "polyline",
              shape: { points: [[b[0] - 13, my - 8], [b[0] - 2, my], [b[0] - 13, my + 8]] },
              style: { stroke: "#000", lineWidth: 2.5, fill: null },
            },
            {
              type: "text",
              x: (a[0] + b[0]) / 2,
              y: b[1] + 42,
              style: { text: rangeText, font: `22px ${FONT}`, fill: INK, align: "center", verticalAlign: "middle" },
            },
          ],
        };
      },
    },
    // "Start of Trading Range"
    {
      type: "custom",
      xAxisIndex: 0,
      yAxisIndex: 0,
      data: startLabel,
      silent: true,
      z: 6,
      renderItem: (params: any, api: any) => {
        const p = api.coord([api.value(0), api.value(1)]);
        return {
          type: "group",
          children: [
            {
              type: "rect",
              shape: { x: p[0] - 2, y: p[1], width: 211, height: 32 },
              style: { fill: "#ffff00", stroke: "#000", lineWidth: 2.5 },
            },
            {
              type: "text",
              x: p[0] + 4,
              y: p[1] + 17,
              style: { text: startText, font: `bold 18px ${FONT}`, fill: "#000", align: "left", verticalAlign: "middle" },
            },
          ],
        };
      },
    },
    // level label
    {
      type: "custom",
      xAxisIndex: 0,
      yAxisIndex: 0,
      data: [levelLine[1]],
      silent: true,
      z: 6,
      renderItem: (params: any, api: any) => {
        const p = api.coord([api.value(0), api.value(1)]);
        return {
          type: "text",
          x: p[0] - 8,
          y: p[1] - 6,
          style: {
            text: api.value(1).toFixed(6),
            font: `bold 23px ${FONT}`,
            fill: "#000",
            align: "right",
            verticalAlign: "bottom",
          },
        };
      },
    },
    // price callouts
    {
      type: "custom",
      xAxisIndex: 0,
      yAxisIndex: 0,
      data: callouts,
      silent: true,
      z: 7,
      renderItem: (params: any, api: any) => {
        const t = api.coord([api.value(0), api.value(1)]);
        const bx = t[0] + 17;
        const by = t[1] - 64;
        const bw = 118;
        const bh = 37;
        return {
          type: "group",
          children: [
            {
              type: "polygon",
              shape: { points: [[t[0], t[1]], [bx + 4, by + bh - 1], [bx + 24, by + bh - 1]] },
              style: { fill: "#d1d4dc" },
            },
            { type: "rect", shape: { x: bx, y: by, width: bw, height: bh, r: 5 }, style: { fill: "#d1d4dc" } },
            {
              type: "text",
              x: bx + bw / 2,
              y: by + bh / 2 + 1,
              style: {
                text: api.value(1).toFixed(6),
                font: `bold 19px ${FONT}`,
                fill: INK,
                align: "center",
                verticalAlign: "middle",
              },
            },
            { type: "circle", shape: { cx: t[0], cy: t[1], r: 3 }, style: { fill: "#ffffff", stroke: "#b2b5be", lineWidth: 1 } },
          ],
        };
      },
    },
    // axis tick marks
    tickMarks(0, priceTicks),
    tickMarks(2, obvTicks),
    tickMarks(3, rsiTicks),
    // last price tag on axis
    {
      type: "custom",
      xAxisIndex: 0,
      yAxisIndex: 0,
      data: [[X_MAX, lastPrice]],
      silent: true,
      clip: false,
      z: 20,
      renderItem: (params: any, api: any) => {
        const p = api.coord([api.value(0), api.value(1)]);
        return {
          type: "group",
          children: [
            { type: "rect", shape: { x: p[0], y: p[1] - 17, width: 124, height: 59, r: [0, 4, 4, 0] }, style: { fill: "#000" } },
            {
              type: "text",
              x: p[0] + 18,
              y: p[1],
              style: { text: api.value(1).toFixed(6), font: `22px ${FONT}`, fill: "#fff", verticalAlign: "middle" },
            },
            {
              type: "text",
              x: p[0] + 18,
              y: p[1] + 27,
              style: { text: countdown, font: `22px ${FONT}`, fill: "#d0d0d0", verticalAlign: "middle" },
            },
          ],
        };
      },
    },
    // OBV
    line(obvSolidA, "#545863", 2.4, "solid", 2),
    line(obvSolidB, "#545863", 2.4, "solid", 2),
    line(obvSolidTop, "#545863", 2.4, "solid", 2),
    line(obvSolidBottom, "#545863", 2.4, "solid", 2),
    line(obvDashMid, "#7d808a", 2.4, [11, 10], 2),
    line(obvDashDiag, "#7d808a", 2.4, [11, 10], 2),
    line(obvPoints, "#1f5ca6", 2.2, "solid", 2, 6),
    // RSI
    line([[X_MIN, 70], [X_MAX, 70]], INK, 2.5, "solid", 3),
    line([[X_MIN, 30], [X_MAX, 30]], INK, 2.5, "solid", 3),
    line(rsiPoints, "#111111", 2, "solid", 3, 6),
  ];

  return {
    animation: false,
    backgroundColor: "#ffffff",
    textStyle: { fontFamily: FONT },
    grid: [
      { left: 11, top: 83, width: 3935, height: 1455 },
      { left: 11, top: 1138, width: 3935, height: 400 },
      { left: 11, top: 1538, width: 3935, height: 272 },
      { left: 11, top: 1810, width: 3935, height: 335 },
    ],
    xAxis: [xAx(0), xAx(1), xAx(2), xAx(3)],
    yAxis: [
      yAx(0, 0.002544, 0.026203, priceTicks, (v: number) => v.toFixed(6)),
      yAx(1, 0, 152, null, null),
      yAx(2, -1716000, -981000, obvTicks, (v: number) => (v < 0 ? "\u2212" : "") + Math.abs(v).toFixed(0)),
      yAx(3, 12.4, 92.1, rsiTicks, (v: number) => v.toFixed(2)),
    ],
    graphic: graphics,
    series,
  };
}

export default function App() {
  const ref = useRef<HTMLDivElement | null>(null);
  useEffect(() => {
    if (!ref.current) return;
    ensureShapes();
    const chart = echarts.init(ref.current, undefined, { renderer: "svg" });
    chart.setOption(buildOption() as any);
    return () => chart.dispose();
  }, []);
  return (
    <div
      ref={ref}
      style={{ position: "absolute", left: 0, top: 0, width: 4096, height: 2267, background: "#ffffff" }}
    />
  );
}
